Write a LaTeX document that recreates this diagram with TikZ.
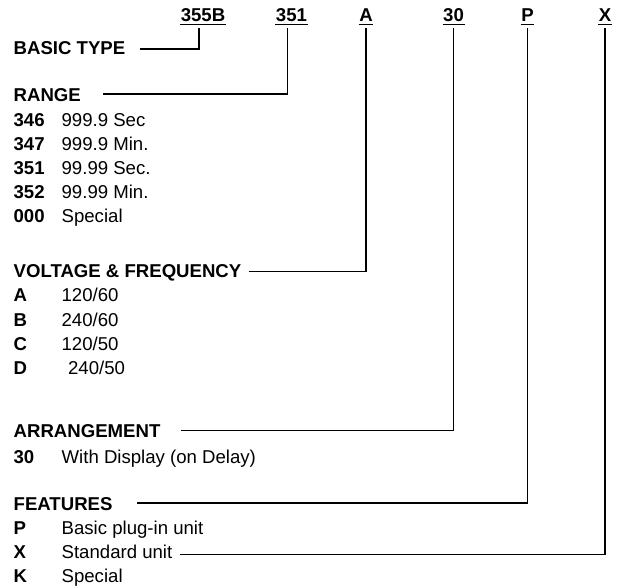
\documentclass[tikz,border=0pt]{standalone}
\usepackage{fontspec}
\setmainfont{Liberation Sans}
\usepackage{tikz}
\usetikzlibrary{positioning}

\begin{document}
\begin{tikzpicture}[x=1pt, y=-1pt, line width=1.3pt,
  every node/.style={inner sep=0pt, font=\fontsize{18.6}{22}\selectfont},
  codelbl/.style={anchor=base, font=\fontsize{18.6}{22}\selectfont\bfseries},
  headlbl/.style={anchor=base west, font=\fontsize{18.6}{22}\selectfont\bfseries},
  itemkey/.style={anchor=base west, font=\fontsize{18.6}{22}\selectfont\bfseries},
  itemtxt/.style={anchor=base west}]
  \useasboundingbox (0,0) rectangle (621,586);
  % model code
  \node[codelbl] (c355b) at (203,22) {355B};
  \node[codelbl] (c351) at (291.5,22) {351};
  \node[codelbl] (cA) at (366,22) {A};
  \node[codelbl] (c30) at (453.5,22) {30};
  \node[codelbl] (cP) at (527.5,22) {P};
  \node[codelbl] (cX) at (605,22) {X};
  \draw[line width=1.5pt] ([yshift=-2.4pt]c355b.base west) -- ([yshift=-2.4pt]c355b.base east);
  \draw[line width=1.5pt] ([yshift=-2.4pt]c351.base west) -- ([yshift=-2.4pt]c351.base east);
  \draw[line width=1.5pt] ([yshift=-2.4pt]cA.base west) -- ([yshift=-2.4pt]cA.base east);
  \draw[line width=1.5pt] ([yshift=-2.4pt]c30.base west) -- ([yshift=-2.4pt]c30.base east);
  \draw[line width=1.5pt] ([yshift=-2.4pt]cP.base west) -- ([yshift=-2.4pt]cP.base east);
  \draw[line width=1.5pt] ([yshift=-2.4pt]cX.base west) -- ([yshift=-2.4pt]cX.base east);
  % basic type
  \node[headlbl] (basic) at (13,55) {BASIC TYPE};
  \draw ([xshift=14pt, yshift=6pt]basic.base east) -| ([xshift=-4pt, yshift=-6pt]c355b.base);
  % range
  \node[headlbl] (range) at (13,101.5) {RANGE};
  \node[itemkey] (r346) at (13,126) {346};
  \node[itemtxt] (r346d) at (61,126) {999.9 Sec};
  \node[itemkey] (r347) at (13,150) {347};
  \node[itemtxt] (r347d) at (61,150) {999.9 Min.};
  \node[itemkey] (r351) at (13,174) {351};
  \node[itemtxt] (r351d) at (61,174) {99.99 Sec.};
  \node[itemkey] (r352) at (13,198) {352};
  \node[itemtxt] (r352d) at (61,198) {99.99 Min.};
  \node[itemkey] (r000) at (13,222) {000};
  \node[itemtxt] (r000d) at (61,222) {Special};
  \draw ([xshift=22pt, yshift=7.5pt]range.base east) -| ([xshift=-4pt, yshift=-6pt]c351.base);
  % voltage & frequency
  \node[headlbl] (volt) at (13,277.3) {VOLTAGE \& FREQUENCY};
  \node[itemkey] (vA) at (13,301.7) {A};
  \node[itemtxt] (vAd) at (61,301.7) {120/60};
  \node[itemkey] (vB) at (13,326) {B};
  \node[itemtxt] (vBd) at (61,326) {240/60};
  \node[itemkey] (vC) at (13,350) {C};
  \node[itemtxt] (vCd) at (61,350) {120/50};
  \node[itemkey] (vD) at (13,374) {D};
  \node[itemtxt] (vDd) at (67.5,374) {240/50};
  \draw ([xshift=7pt, yshift=5.5pt]volt.base east) -| ([yshift=-6pt]cA.base);
  % arrangement
  \node[headlbl] (arr) at (13,437.7) {ARRANGEMENT};
  \node[itemkey] (a30) at (13,463.3) {30};
  \node[itemtxt] (a30d) at (61,463.3) {With Display (on Delay)};
  \draw ([xshift=20pt, yshift=7.5pt]arr.base east) -| ([yshift=-6pt]c30.base);
  % features
  \node[headlbl] (feat) at (13,510) {FEATURES};
  \node[itemkey] (fP) at (13,534) {P};
  \node[itemtxt] (fPd) at (61,534) {Basic plug-in unit};
  \node[itemkey] (fX) at (13,558.3) {X};
  \node[itemtxt] (fXd) at (61,558.3) {Standard unit};
  \node[itemkey] (fK) at (13,582.5) {K};
  \node[itemtxt] (fKd) at (61,582.5) {Special};
  \draw ([xshift=24pt, yshift=7pt]feat.base east) -| ([yshift=-6pt]cP.base);
  \draw ([xshift=7pt, yshift=4pt]fXd.base east) -| ([yshift=-6pt]cX.base);
\end{tikzpicture}
\end{document}
